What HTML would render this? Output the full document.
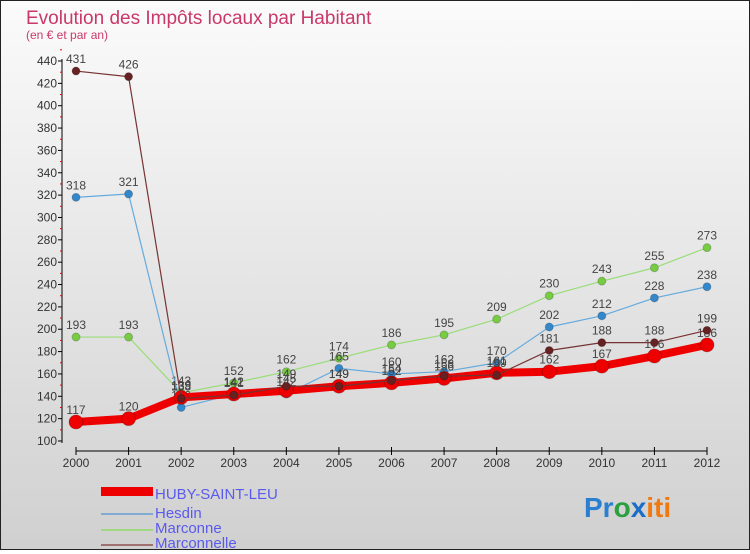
<!DOCTYPE html>
<html><head><meta charset="utf-8"><style>
body{margin:0;width:750px;height:550px;overflow:hidden;font-family:"Liberation Sans",sans-serif}
#c{position:absolute;left:0;top:0;width:748px;height:548px;border:1px solid #222;background:linear-gradient(#fbfbfb,#d0d0d0)}
</style></head><body>
<div id="c">
<svg id="s" width="748" height="548" xmlns="http://www.w3.org/2000/svg">
<text x="25" y="23" font-size="19" fill="#c8386a">Evolution des Impôts locaux par Habitant</text>
<text x="25" y="38" font-size="12" fill="#c8386a">(en € et par an)</text>
<g id="axes"></g><g id="series"></g>
<g font-size="15" fill="#5a5aee">
<rect x="100" y="486" width="52" height="9" fill="#e00"/>
<text x="154" y="498">HUBY-SAINT-LEU</text>
<line x1="100" x2="152" y1="513" y2="513" stroke="#80aad0" stroke-width="2"/>
<text x="154" y="517">Hesdin</text>
<line x1="100" x2="152" y1="529" y2="529" stroke="#a0d880" stroke-width="2"/>
<text x="154" y="532">Marconne</text>
<line x1="100" x2="152" y1="544" y2="544" stroke="#a07070" stroke-width="2"/>
<text x="154" y="547">Marconnelle</text>
</g>
<text x="583" y="516" font-size="28" font-weight="bold"><tspan fill="#2a7fd0">Pr</tspan><tspan fill="#2aa040">o</tspan><tspan fill="#1a6ec8">x</tspan><tspan fill="#f07a10">iti</tspan></text>
</svg></div>
<script>
const years=[2000,2001,2002,2003,2004,2005,2006,2007,2008,2009,2010,2011,2012];
const yTicks=[100,120,140,160,180,200,220,240,260,280,300,320,340,360,380,400,420,440];
const huby=[117,120,139,142,145,149,152,156,161,162,167,176,186];
const hesdin=[318,321,130,142,142,165,160,162,170,202,212,228,238];
const marconne=[193,193,143,152,162,174,186,195,209,230,243,255,273];
const marconnelle=[431,426,138,141,149,149,154,158,159,181,188,188,199];
const NS='http://www.w3.org/2000/svg';
const xs=i=>75+i*(706-75)/12;
const ys=v=>440-(v-100)*380/340;
function mk(t,a,p){const e=document.createElementNS(NS,t);for(const k in a)e.setAttribute(k,a[k]);p.appendChild(e);return e;}
const ax=document.getElementById('axes'),sg=document.getElementById('series');
let yl=mk('line',{x1:61,x2:61,y1:58,y2:442,stroke:'#000','stroke-width':1},ax);


yTicks.forEach(v=>{
 let t=mk('line',{x1:57,x2:61,y1:ys(v),y2:ys(v),stroke:'#000'},ax);
 
 
 let m=mk('line',{x1:59,x2:61,y1:ys(v+10),y2:ys(v+10),stroke:'#e00'},ax);
 
 
 let l=mk('text',{x:56,y:ys(v)+4,'font-size':12,fill:'#333','text-anchor':'end'},ax);
 l.textContent=v;
 
 
});
let xl=mk('line',{x1:75,x2:706,y1:450,y2:450,stroke:'#000'},ax);


years.forEach((y,i)=>{
 let t=mk('line',{x1:xs(i),x2:xs(i),y1:446,y2:454,stroke:'#000'},ax);
 
 
 let l=mk('text',{x:xs(i),y:466,'font-size':12,fill:'#333','text-anchor':'middle'},ax);
 l.textContent=y;
 
 
});
function draw(name,data,col,w,r,fill){
 const g=mk('g',{},sg);
 
 
 const p=mk('polyline',{points:data.map((v,i)=>xs(i)+','+ys(v)).join(' '),fill:'none',stroke:col,'stroke-width':w,'stroke-linejoin':'round'},g);
 
 
 data.forEach((v,i)=>{
  const c=mk('circle',{cx:xs(i),cy:ys(v),r:r,fill:fill,stroke:'rgba(0,0,0,0.2)'},g);
  
  
  const t=mk('text',{x:xs(i),y:ys(v)-8,'font-size':12,fill:'#444','text-anchor':'middle'},g);
  t.textContent=v;
  
  
 });
}
draw('marconne',marconne,'#99dd77',1.2,4,'#77cc44');
draw('hesdin',hesdin,'#66aadd',1.2,4,'#3388cc');
draw('huby',huby,'#ee0000',8,7,'#ee0000');
draw('marconnelle',marconnelle,'#773333',1.2,4,'#662222');
</script>
</body></html>
